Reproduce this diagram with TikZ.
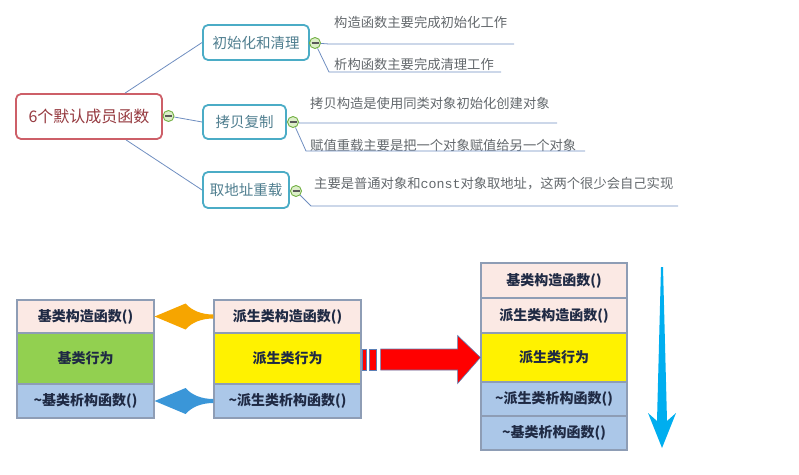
\documentclass[tikz,border=0pt]{standalone}
\usepackage{fontspec}
\setmainfont{Noto Sans CJK SC}
\newfontfamily\codefont{Liberation Mono}
\usetikzlibrary{calc}

\definecolor{rootred}{HTML}{CD5F68}
\definecolor{roottext}{HTML}{963A40}
\definecolor{topicteal}{HTML}{4BACC6}
\definecolor{topictext}{HTML}{4F7E8F}
\definecolor{branchblue}{HTML}{6F8EC0}
\definecolor{leafgray}{HTML}{63686C}
\definecolor{foldgreen}{HTML}{72B043}
\definecolor{foldfill}{HTML}{DCEEC8}
\definecolor{boxgray}{HTML}{8E9DB5}
\definecolor{boxtext}{HTML}{1F2A44}
\definecolor{ctorpink}{HTML}{FBE9E4}
\definecolor{basegreen}{HTML}{92D050}
\definecolor{dtorblue}{HTML}{ABC7E8}
\definecolor{ctororange}{HTML}{F6A500}
\definecolor{dtorarrow}{HTML}{3A96D8}
\definecolor{redline}{HTML}{5B7FB5}
\definecolor{flowblue}{HTML}{00AEEF}

\tikzset{
  mapline/.style={draw=branchblue, line width=0.8pt},
  fold/.style={circle, draw=foldgreen, line width=0.9pt, fill=foldfill,
    minimum size=11pt, inner sep=0pt,
    path picture={\draw[line width=1.1pt, black!65]
      ([xshift=-3.5pt]path picture bounding box.center) --
      ([xshift=3.5pt]path picture bounding box.center);}},
  leaf/.style={anchor=west, inner sep=0pt, text=leafgray,
    font=\fontsize{13.3}{16}\selectfont},
  layer/.style={draw=boxgray, line width=1.2pt, inner sep=0pt, text=boxtext,
    font=\fontsize{14}{16}\selectfont\bfseries},
  fatarrow/.style={draw=redline, line width=0.6pt, fill=red}
}

\begin{document}
\begin{tikzpicture}[x=1pt,y=-1pt]

  \useasboundingbox (0,0) rectangle (799,474);

  \begin{scope}[every node/.style={rounded corners=5pt, line width=1.8pt, fill=white}]
    \node[draw=rootred, text=roottext, minimum width=146pt, minimum height=45pt,
      font=\fontsize{16}{18}\selectfont] (root) at (89,116.5) {6个默认成员函数};
    \node[draw=topicteal, text=topictext, minimum width=106pt, minimum height=35pt,
      font=\fontsize{14.5}{17}\selectfont] (init) at (256,42.5) {初始化和清理};
    \node[draw=topicteal, text=topictext, minimum width=83pt, minimum height=34pt,
      font=\fontsize{14.5}{17}\selectfont] (copy) at (244.5,122) {拷贝复制};
    \node[draw=topicteal, text=topictext, minimum width=86pt, minimum height=36pt,
      font=\fontsize{14.5}{17}\selectfont] (addr) at (246,190) {取地址重载};
  \end{scope}

  \node[fold] (froot) at (168.5,116) {};
  \node[fold] (finit) at (315,43) {};
  \node[fold] (fcopy) at (293,122) {};
  \node[fold] (faddr) at (296,191) {};

  \path[mapline] ([xshift=36pt]root.north) edge (init.west)
    (froot) edge (copy.west)
    ([xshift=37pt]root.south) edge (addr.west);

  \node[leaf] (ctor) at (334,22) {构造函数主要完成初始化工作};
  \node[leaf] (dtor) at (334,64) {析构函数主要完成清理工作};
  \node[leaf] (cpctor) at (310,103) {拷贝构造是使用同类对象初始化创建对象};
  \node[leaf] (assign) at (310,145) {赋值重载主要是把一个对象赋值给另一个对象};
  \node[leaf] (addrop) at (314,184) {主要是普通对象和{\codefont const}对象取地址，这两个很少会自己实现};

  \coordinate (u1) at (329,44);   \coordinate (v1) at (514,44);
  \coordinate (u2) at (329,72);   \coordinate (v2) at (501,72);
  \coordinate (u3) at (300,123);  \coordinate (v3) at (557,123);
  \coordinate (u4) at (306,151);  \coordinate (v4) at (585,151);
  \coordinate (u5) at (311,206);  \coordinate (v5) at (678,206);

  \draw[mapline] (finit) -- (u1) -- (v1);
  \draw[mapline] (finit) -- (u2) -- (v2);
  \draw[mapline] (fcopy) -- (u3) -- (v3);
  \draw[mapline] (fcopy) -- (u4) -- (v4);
  \draw[mapline] (faddr) -- (u5) -- (v5);

  \begin{scope}[every node/.style={layer}]
    \node[fill=ctorpink, minimum width=137pt, minimum height=33pt] (bctor) at (85.5,316.5) {基类构造函数()};
    \node[fill=basegreen, minimum width=137pt, minimum height=51pt] (bbody) at (85.5,358.5) {基类行为};
    \node[fill=dtorblue, minimum width=137pt, minimum height=34pt] (bdtor) at (85.5,401) {\textasciitilde 基类析构函数()};

    \node[fill=ctorpink, minimum width=147pt, minimum height=33pt] (dctor) at (287.5,316.5) {派生类构造函数()};
    \node[fill=yellow, minimum width=147pt, minimum height=51pt] (dbody) at (287.5,358.5) {派生类行为};
    \node[fill=dtorblue, minimum width=147pt, minimum height=34pt] (ddtor) at (287.5,401) {\textasciitilde 派生类析构函数()};

    \node[fill=ctorpink, minimum width=146pt, minimum height=35pt] (sbctor) at (554,280.5) {基类构造函数()};
    \node[fill=ctorpink, minimum width=146pt, minimum height=35pt] (sdctor) at (554,315.5) {派生类构造函数()};
    \node[fill=yellow, minimum width=146pt, minimum height=49pt] (sdbody) at (554,357.5) {派生类行为};
    \node[fill=dtorblue, minimum width=146pt, minimum height=34pt] (sddtor) at (554,399) {\textasciitilde 派生类析构函数()};
    \node[fill=dtorblue, minimum width=146pt, minimum height=34pt] (sbdtor) at (554,433) {\textasciitilde 基类析构函数()};
  \end{scope}

  \fill[ctororange] (bctor.east) -- ++(31,-13) .. controls +(6,7) and +(-12,0) .. ($(dctor.west)+(0,-2)$)
    -- ($(dctor.west)+(0,2)$) .. controls +(-12,0) and +(6,-7) .. ($(bctor.east)+(31,13)$) -- cycle;
  \fill[dtorarrow] (bdtor.east) -- ++(31,-13) .. controls +(6,7) and +(-12,0) .. ($(ddtor.west)+(0,-2)$)
    -- ($(ddtor.west)+(0,2)$) .. controls +(-12,0) and +(6,-7) .. ($(bdtor.east)+(31,13)$) -- cycle;

  \path[fatarrow] ($(dbody.east)+(1,-9.5)$) rectangle ($(dbody.east)+(5,11.5)$);
  \path[fatarrow] ($(dbody.east)+(8,-9.5)$) rectangle ($(dbody.east)+(15,11.5)$);
  \path[fatarrow] ($(dbody.east)+(19,-9.5)$) -- ($(dbody.east)+(96,-9.5)$) -- ($(dbody.east)+(96,-23)$)
    -- (sdbody.west) -- ($(dbody.east)+(96,25)$) -- ($(dbody.east)+(96,11.5)$)
    -- ($(dbody.east)+(19,11.5)$) -- cycle;

  \fill[flowblue] (661,267) -- (663,267) -- (667,421) -- (676,413) -- (662,448)
    -- (648,413) -- (657,421) -- cycle;

\end{tikzpicture}
\end{document}
